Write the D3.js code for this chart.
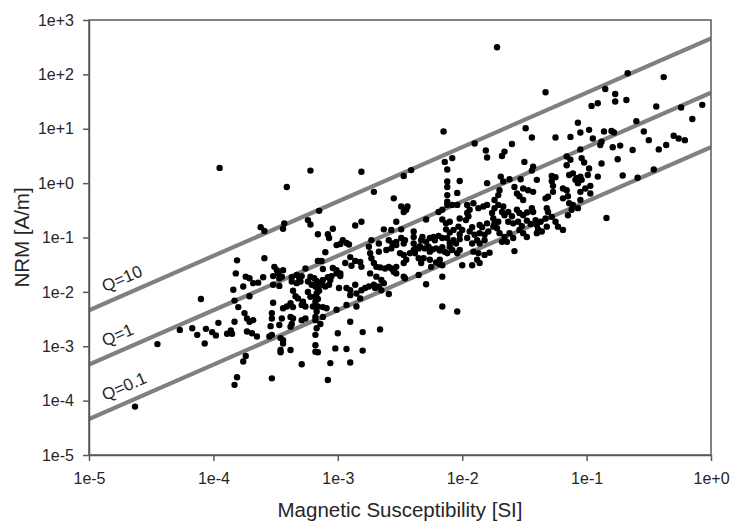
<!DOCTYPE html>
<html><head><meta charset="utf-8">
<script src="https://cdn.jsdelivr.net/npm/d3@7"></script>
<style>html,body{margin:0;padding:0;background:#fff;}svg{display:block;font-family:"Liberation Sans",Arial,Helvetica,sans-serif;}</style>
</head><body>
<svg id="chart" width="733" height="525"></svg>
<script>
// Tick values and labels
const xTickValues = [1e-5, 1e-4, 1e-3, 1e-2, 1e-1, 1];
const xTickLabels = ["1e-5", "1e-4", "1e-3", "1e-2", "1e-1", "1e+0"];
const yTickValues = [1e-5, 1e-4, 1e-3, 1e-2, 1e-1, 1, 10, 100, 1000];
const yTickLabels = ["1e-5", "1e-4", "1e-3", "1e-2", "1e-1", "1e+0", "1e+1", "1e+2", "1e+3"];
// Koenigsberger ratio reference lines
const qValues = [10, 1, 0.1];
const qLabels = ["Q=10", "Q=1", "Q=0.1"];
const fieldH = 46; // A/m, NRM = Q * k * H
// Samples: [log10 susceptibility (SI), log10 NRM (A/m)]
const logSamples = [
[-3.95,0.28],[-3.81,-1.42],[-3.82,-1.66],[-4.10,-2.13],[-3.84,-1.96],[-3.83,-2.16],[-3.80,-2.28],[-3.83,-2.55],[-3.96,-2.57],[-4.27,-2.70],
[-4.17,-2.67],[-4.13,-2.79],[-4.06,-2.68],[-4.01,-2.74],[-3.98,-2.80],[-3.89,-2.77],[-3.86,-2.71],[-3.85,-2.77],[-4.45,-2.96],[-4.07,-2.95],
[-3.81,-3.57],[-3.83,-3.71],[-4.63,-4.11],[-3.22,0.23],[-3.41,-0.07],[-3.15,-0.51],[-3.62,-0.81],[-3.59,-0.88],[-3.43,-0.74],[-3.44,-0.84],
[-3.24,-0.68],[-3.22,-0.76],[-3.16,-0.94],[-3.08,-0.94],[-3.07,-1.01],[-3.04,-0.84],[-2.86,-0.78],[-3.01,-1.14],[-2.98,-1.12],[-2.96,-1.05],
[-2.93,-1.10],[-2.91,-1.13],[-3.59,-1.38],[-3.10,-1.27],[-3.16,-1.43],[-3.13,-1.43],[-2.90,-1.36],[-2.86,-1.43],[-3.26,-1.57],[-3.12,-1.58],
[-3.04,-1.56],[-3.01,-1.60],[-2.98,-1.66],[-2.94,-1.47],[-2.89,-1.52],[-3.51,-1.54],[-3.48,-1.66],[-3.49,-1.60],[-3.44,-1.60],[-3.74,-1.72],
[-3.71,-1.75],[-3.68,-1.84],[-3.64,-1.83],[-3.60,-1.73],[-3.76,-1.90],[-3.52,-1.71],[-3.47,-1.75],[-3.45,-1.72],[-3.37,-1.73],[-3.33,-1.69],
[-3.31,-1.75],[-3.29,-1.71],[-3.22,-1.72],[-3.19,-1.75],[-3.17,-1.80],[-3.14,-1.84],[-3.12,-1.78],[-3.08,-1.73],[-3.06,-1.78],[-3.05,-1.71],
[-3.01,-1.66],[-2.98,-1.71],[-3.52,-1.87],[-3.47,-1.89],[-3.37,-1.81],[-3.33,-1.84],[-3.30,-1.81],[-3.24,-1.81],[-3.21,-1.87],[-3.18,-1.90],
[-3.16,-1.95],[-3.13,-1.87],[-3.10,-1.90],[-3.07,-1.87],[-2.99,-1.93],[-2.93,-1.93],[-2.90,-1.97],[-2.86,-1.87],[-3.71,-2.08],[-3.36,-1.98],
[-3.34,-2.08],[-3.32,-2.12],[-3.24,-2.00],[-3.22,-2.09],[-3.18,-2.09],[-3.17,-2.03],[-3.15,-1.98],[-3.18,-2.18],[-3.16,-2.13],[-2.90,-2.06],
[-2.85,-2.03],[-3.52,-2.20],[-3.44,-2.30],[-3.41,-2.27],[-3.38,-2.21],[-3.36,-2.28],[-3.29,-2.24],[-3.26,-2.27],[-3.28,-2.18],[-3.20,-2.27],
[-3.16,-2.27],[-3.12,-2.28],[-3.09,-2.30],[-3.01,-2.33],[-2.93,-2.24],[-2.85,-2.27],[-3.75,-2.39],[-3.73,-2.49],[-3.71,-2.55],[-3.68,-2.52],
[-3.53,-2.39],[-3.53,-2.49],[-3.45,-2.49],[-3.38,-2.46],[-3.36,-2.49],[-3.29,-2.52],[-3.26,-2.49],[-3.18,-2.46],[-3.18,-2.52],[-3.17,-2.36],
[-3.12,-2.46],[-3.73,-2.73],[-3.69,-2.76],[-3.65,-2.82],[-3.54,-2.63],[-3.47,-2.61],[-3.38,-2.64],[-3.37,-2.59],[-3.17,-2.67],[-3.14,-2.59],
[-3.00,-2.76],[-2.80,-2.74],[-3.53,-2.79],[-3.55,-2.82],[-3.18,-2.79],[-3.46,-2.85],[-3.44,-2.89],[-3.44,-2.95],[-3.46,-3.07],[-3.46,-3.11],
[-3.38,-3.07],[-3.18,-2.98],[-3.18,-3.10],[-3.16,-3.11],[-3.02,-3.04],[-2.93,-3.05],[-2.80,-3.08],[-3.76,-3.28],[-3.74,-3.18],[-3.29,-3.33],
[-3.06,-3.31],[-2.90,-3.30],[-3.53,-3.59],[-3.08,-3.62],[-2.66,-2.69],[-2.90,-2.55],[-1.90,0.73],[-1.81,0.60],[-1.80,0.47],[-2.14,0.39],
[-2.08,0.46],[-2.12,0.25],[-2.81,0.21],[-2.47,0.13],[-2.41,0.24],[-2.12,0.03],[-2.12,-0.07],[-2.02,0.04],[-2.04,-0.18],[-2.12,-0.22],
[-1.80,0.00],[-2.71,-0.16],[-2.55,-0.28],[-2.49,-0.43],[-2.44,-0.43],[-2.47,-0.53],[-2.45,-0.49],[-2.12,-0.34],[-2.12,-0.40],[-2.08,-0.40],
[-2.04,-0.40],[-2.19,-0.53],[-2.16,-0.49],[-1.96,-0.40],[-1.91,-0.37],[-1.94,-0.49],[-1.96,-0.55],[-1.87,-0.46],[-1.83,-0.43],[-1.80,-0.40],
[-2.81,-0.71],[-2.53,-0.71],[-2.29,-0.67],[-2.16,-0.67],[-2.13,-0.74],[-2.10,-0.71],[-2.02,-0.65],[-1.97,-0.68],[-1.95,-0.61],[-1.92,-0.81],
[-1.86,-0.77],[-1.84,-0.81],[-1.80,-0.74],[-2.63,-0.85],[-2.57,-0.86],[-2.49,-0.85],[-2.39,-0.89],[-2.13,-0.85],[-2.10,-0.91],[-2.07,-0.86],
[-2.03,-0.80],[-2.02,-0.94],[-2.00,-0.86],[-1.94,-0.89],[-1.90,-0.95],[-1.86,-0.92],[-1.82,-0.95],[-1.79,-0.89],[-2.73,-1.05],[-2.67,-1.11],
[-2.59,-1.05],[-2.56,-1.11],[-2.53,-1.08],[-2.49,-1.01],[-2.47,-1.11],[-2.46,-1.05],[-2.39,-0.99],[-2.39,-1.11],[-2.37,-1.20],[-2.34,-1.16],
[-2.33,-1.05],[-2.32,-0.99],[-2.29,-1.08],[-2.26,-1.01],[-2.23,-0.99],[-2.22,-1.05],[-2.19,-0.97],[-2.16,-1.01],[-2.12,-1.01],[-2.10,-1.10],
[-2.07,-1.05],[-2.02,-1.03],[-2.05,-1.11],[-1.96,-1.01],[-1.92,-1.11],[-1.88,-1.05],[-1.86,-1.11],[-1.82,-1.05],[-2.75,-1.17],[-2.74,-1.29],
[-2.73,-1.38],[-2.67,-1.26],[-2.61,-1.23],[-2.57,-1.20],[-2.53,-1.14],[-2.50,-1.29],[-2.47,-1.32],[-2.42,-1.29],[-2.39,-1.23],[-2.38,-1.29],
[-2.35,-1.20],[-2.30,-1.20],[-2.27,-1.17],[-2.26,-1.26],[-2.24,-1.22],[-2.21,-1.20],[-2.18,-1.24],[-2.16,-1.18],[-2.14,-1.26],[-2.12,-1.29],
[-2.10,-1.17],[-2.08,-1.23],[-2.02,-1.23],[-2.04,-1.29],[-1.91,-1.26],[-1.87,-1.29],[-1.88,-1.41],[-1.82,-1.32],[-1.86,-1.47],[-1.92,-1.51],
[-2.82,-1.45],[-2.81,-1.54],[-2.71,-1.47],[-2.69,-1.54],[-2.66,-1.55],[-2.62,-1.57],[-2.59,-1.54],[-2.57,-1.57],[-2.55,-1.63],[-2.53,-1.54],
[-2.53,-1.66],[-2.47,-1.47],[-2.45,-1.41],[-2.35,-1.38],[-2.33,-1.47],[-2.31,-1.38],[-2.26,-1.41],[-2.25,-1.54],[-2.21,-1.46],[-2.18,-1.49],
[-2.18,-1.41],[-2.16,-1.51],[-2.00,-1.51],[-2.74,-1.66],[-2.69,-1.72],[-2.65,-1.78],[-2.63,-1.84],[-2.47,-1.72],[-2.46,-1.75],[-2.35,-1.69],
[-2.29,-1.86],[-2.16,-1.72],[-2.81,-1.97],[-2.78,-1.93],[-2.75,-1.90],[-2.71,-1.87],[-2.70,-1.93],[-2.67,-1.90],[-2.59,-2.04],[-2.65,-1.97],
[-2.82,-2.12],[-2.16,-2.27],[-2.04,-2.36],[-2.15,0.95],[-1.72,2.50],[-1.33,1.67],[-0.96,1.42],[-1.07,1.11],[-1.49,1.01],[-1.44,0.84],
[-1.25,0.84],[-1.13,0.85],[-1.05,0.93],[-0.98,0.98],[-0.95,0.82],[-1.60,0.72],[-1.66,0.58],[-1.68,0.50],[-1.50,0.39],[-1.43,0.30],
[-1.44,0.23],[-1.16,0.49],[-1.13,0.43],[-1.16,0.33],[-1.05,0.62],[-1.04,0.46],[-1.02,0.38],[-0.98,0.27],[-1.69,0.12],[-1.67,0.03],
[-1.62,0.07],[-1.53,0.07],[-1.28,0.13],[-1.25,0.11],[-1.28,0.04],[-1.27,-0.05],[-1.27,-0.16],[-1.14,0.15],[-1.11,0.18],[-1.08,0.09],
[-1.05,0.12],[-1.09,0.06],[-1.07,0.00],[-1.04,0.06],[-0.99,0.15],[-1.01,-0.10],[-0.97,-0.05],[-0.97,-0.19],[-1.05,-0.16],[-1.19,-0.10],
[-1.16,-0.13],[-1.15,-0.24],[-1.19,-0.28],[-1.58,-0.07],[-1.51,-0.10],[-1.47,-0.13],[-1.43,-0.16],[-1.56,-0.19],[-1.54,-0.24],[-1.51,-0.31],
[-1.71,-0.22],[-1.70,-0.13],[-1.74,-0.31],[-1.33,-0.28],[-1.31,-0.25],[-1.32,-0.46],[-1.14,-0.37],[-1.11,-0.40],[-1.07,-0.46],[-1.05,-0.31],
[-1.76,-0.55],[-1.74,-0.46],[-1.71,-0.40],[-1.67,-0.43],[-1.68,-0.53],[-1.66,-0.59],[-1.75,-0.65],[-1.74,-0.74],[-1.71,-0.71],[-1.75,-0.80],
[-1.72,-0.83],[-1.63,-0.53],[-1.60,-0.61],[-1.56,-0.49],[-1.54,-0.55],[-1.51,-0.59],[-1.48,-0.54],[-1.44,-0.46],[-1.43,-0.53],[-1.63,-0.71],
[-1.59,-0.74],[-1.55,-0.71],[-1.52,-0.79],[-1.48,-0.69],[-1.45,-0.75],[-1.41,-0.68],[-1.40,-0.77],[-1.37,-0.71],[-1.33,-0.65],[-1.31,-0.53],
[-1.28,-0.62],[-1.25,-0.71],[-1.23,-0.80],[-1.19,-0.86],[-1.15,-0.59],[-1.12,-0.49],[-1.70,-0.92],[-1.66,-0.99],[-1.62,-0.92],[-1.64,-1.08],
[-1.68,-1.08],[-1.59,-1.01],[-1.54,-0.86],[-1.51,-0.92],[-1.48,-0.99],[-1.40,-0.92],[-1.39,-0.85],[-1.36,-0.89],[-1.32,-0.80],[-1.58,-1.25],
[-1.78,-1.28],[-1.40,0.06],[-0.67,2.02],[-0.38,1.95],[-0.85,1.73],[-0.77,1.64],[-0.77,1.50],[-0.68,1.53],[-0.91,1.47],[-0.44,1.41],
[-0.24,1.39],[-0.07,1.44],[-0.15,1.18],[-0.60,1.14],[-0.86,0.95],[-0.80,0.96],[-0.78,0.93],[-0.88,0.76],[-0.89,0.70],[-0.54,0.95],
[-0.50,0.79],[-0.30,0.87],[-0.26,0.82],[-0.21,0.79],[-0.36,0.70],[-0.42,0.62],[-0.79,0.66],[-0.73,0.69],[-0.63,0.61],[-0.88,0.36],
[-0.75,0.44],[-0.91,0.12],[-0.71,0.14],[-0.59,0.10],[-0.46,0.25],[-0.84,-0.64]
];

const width = 733, height = 525;
const margin = {top: 20, right: 22, bottom: 70, left: 89};
const iw = width - margin.left - margin.right;
const ih = height - margin.top - margin.bottom;
const axisColor = "#595959";
const textColor = "#262626";

const svg = d3.select("#chart");
const g = svg.append("g").attr("transform", `translate(${margin.left},${margin.top})`);

const x = d3.scaleLog().domain([1e-5, 1]).range([0, iw]);
const y = d3.scaleLog().domain([1e-5, 1e3]).range([ih, 0]);

svg.append("defs").append("clipPath").attr("id", "plotclip")
  .append("rect").attr("width", iw).attr("height", ih);

const plot = g.append("g").attr("clip-path", "url(#plotclip)");

// Q lines
const line = d3.line().x(d => x(d[0])).y(d => y(d[1]));
const kEnds = [1e-5, 1];
qValues.forEach((q) => {
  plot.append("path")
    .datum(kEnds.map(k => [k, q * k * fieldH]))
    .attr("d", line)
    .attr("fill", "none")
    .attr("stroke", "#808080")
    .attr("stroke-width", 4.2);
});

// points
const samples = logSamples.map(d => ({k: Math.pow(10, d[0]), nrm: Math.pow(10, d[1])}));
plot.selectAll("circle.pt").data(samples).enter().append("circle")
  .attr("class", "pt")
  .attr("cx", d => x(d.k))
  .attr("cy", d => y(d.nrm))
  .attr("r", 3.2)
  .attr("fill", "#000");

// Q labels, rotated along lines
const angle = Math.atan2(y(1e-3) - y(1e-2), x(1e-3) - x(1e-4)) * 180 / Math.PI;
const labelK = 1.45e-5;
qValues.forEach((q, i) => {
  const px = x(labelK), py = y(q * labelK * fieldH);
  g.append("text")
    .attr("transform", `translate(${px},${py}) rotate(${-angle})`)
    .attr("dy", -10)
    .attr("font-size", 17)
    .attr("fill", textColor)
    .text(qLabels[i]);
});

// frame
g.append("rect").attr("width", iw).attr("height", ih)
  .attr("fill", "none").attr("stroke", axisColor).attr("stroke-width", 1.5);

// axes
const xAxis = d3.axisBottom(x).tickValues(xTickValues)
  .tickFormat((d, i) => xTickLabels[i]).tickSize(6).tickSizeOuter(0).tickPadding(12);
const yAxis = d3.axisLeft(y).tickValues(yTickValues)
  .tickFormat((d, i) => yTickLabels[i]).tickSize(6).tickSizeOuter(0).tickPadding(9);

const gx = g.append("g").attr("transform", `translate(0,${ih})`).call(xAxis);
const gy = g.append("g").call(yAxis);
[gx, gy].forEach(a => {
  a.select(".domain").attr("stroke", axisColor).attr("stroke-width", 1.5);
  a.selectAll(".tick line").attr("stroke", axisColor).attr("stroke-width", 1.5);
  a.selectAll(".tick text").attr("fill", textColor).attr("font-size", 16)
    .attr("font-family", "'Liberation Sans', Arial, sans-serif");
});

// axis titles
svg.append("text")
  .attr("x", margin.left + iw / 2).attr("y", 517)
  .attr("text-anchor", "middle").attr("font-size", 20.5).attr("fill", textColor)
  .text("Magnetic Susceptibility [SI]");
svg.append("text")
  .attr("transform", `translate(29,${margin.top + ih / 2}) rotate(-90)`)
  .attr("text-anchor", "middle").attr("font-size", 20.5).attr("fill", textColor)
  .text("NRM [A/m]");
</script>
</body></html>
